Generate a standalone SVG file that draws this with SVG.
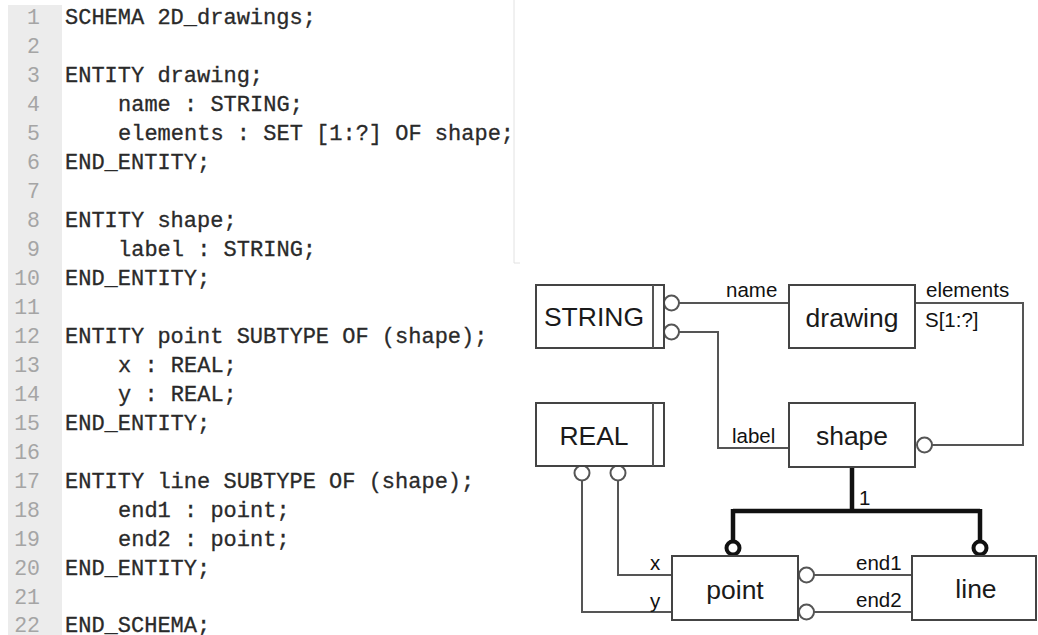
<svg xmlns="http://www.w3.org/2000/svg" width="1038" height="635" viewBox="0 0 1038 635">
<style>
.code{font-family:"Liberation Mono","Courier New",monospace;font-size:22px;fill:#2a2a2a;stroke:#2a2a2a;stroke-width:0.3}
.num{font-family:"Liberation Mono","Courier New",monospace;font-size:21.5px;fill:#a5a5a5;text-anchor:end}
.box{fill:#fff;stroke:#444;stroke-width:2}
.btxt{font-family:"Liberation Sans",Arial,sans-serif;font-size:26.5px;fill:#1a1a1a;text-anchor:middle}
.lbl{font-family:"Liberation Sans",Arial,sans-serif;font-size:20.5px;fill:#111}
.ln{fill:none;stroke:#555;stroke-width:2}
.thick{fill:none;stroke:#111;stroke-width:4.5}
.oc{fill:#fff;stroke:#555;stroke-width:2}
.tc{fill:#fff;stroke:#111;stroke-width:4}
</style>
<rect width="1038" height="635" fill="#fff"/>
<g id="code">
<rect x="8" y="5" width="54" height="630" fill="#ececec"/>
<path d="M514 0 V263 H520" fill="none" stroke="#e2e2e2" stroke-width="1"/>
<text class="num" x="40" y="24">1</text>
<text class="num" x="40" y="53">2</text>
<text class="num" x="40" y="82">3</text>
<text class="num" x="40" y="111">4</text>
<text class="num" x="40" y="140">5</text>
<text class="num" x="40" y="169">6</text>
<text class="num" x="40" y="198">7</text>
<text class="num" x="40" y="227">8</text>
<text class="num" x="40" y="256">9</text>
<text class="num" x="40" y="285">10</text>
<text class="num" x="40" y="314">11</text>
<text class="num" x="40" y="343">12</text>
<text class="num" x="40" y="372">13</text>
<text class="num" x="40" y="401">14</text>
<text class="num" x="40" y="430">15</text>
<text class="num" x="40" y="459">16</text>
<text class="num" x="40" y="488">17</text>
<text class="num" x="40" y="517">18</text>
<text class="num" x="40" y="546">19</text>
<text class="num" x="40" y="575">20</text>
<text class="num" x="40" y="604">21</text>
<text class="num" x="40" y="632">22</text>
<text class="code" x="65" y="24">SCHEMA 2D_drawings;</text>
<text class="code" x="65" y="82">ENTITY drawing;</text>
<text class="code" x="118" y="111">name : STRING;</text>
<text class="code" x="118" y="140">elements : SET [1:?] OF shape;</text>
<text class="code" x="65" y="169">END_ENTITY;</text>
<text class="code" x="65" y="227">ENTITY shape;</text>
<text class="code" x="118" y="256">label : STRING;</text>
<text class="code" x="65" y="285">END_ENTITY;</text>
<text class="code" x="65" y="343">ENTITY point SUBTYPE OF (shape);</text>
<text class="code" x="118" y="372">x : REAL;</text>
<text class="code" x="118" y="401">y : REAL;</text>
<text class="code" x="65" y="430">END_ENTITY;</text>
<text class="code" x="65" y="488">ENTITY line SUBTYPE OF (shape);</text>
<text class="code" x="118" y="517">end1 : point;</text>
<text class="code" x="118" y="546">end2 : point;</text>
<text class="code" x="65" y="575">END_ENTITY;</text>
<text class="code" x="65" y="632">END_SCHEMA;</text>
</g>
<g id="connectors">
<path class="ln" d="M679 303 H789"/>
<path class="ln" d="M679 332 H718 V448 H789"/>
<path class="ln" d="M915 303 H1023 V445 H932"/>
<path class="ln" d="M582 480 V612 H672"/>
<path class="ln" d="M618 480 V575 H672"/>
<path class="ln" d="M814 575 H912"/>
<path class="ln" d="M814 612 H912"/>
<path class="thick" d="M852 467 V511 M733 511 H980 M733 509 V542 M980 509 V542"/>
<circle class="oc" cx="671.5" cy="303" r="7.5"/>
<circle class="oc" cx="671.5" cy="332" r="7.5"/>
<circle class="oc" cx="924.5" cy="445" r="7.5"/>
<circle class="oc" cx="582" cy="473" r="7.5"/>
<circle class="oc" cx="618" cy="473" r="7.5"/>
<circle class="oc" cx="806.5" cy="575" r="7.5"/>
<circle class="oc" cx="806.5" cy="612" r="7.5"/>
<circle class="tc" cx="733" cy="548" r="6.5"/>
<circle class="tc" cx="980" cy="548" r="6.5"/>
<text class="lbl" x="726" y="297">name</text>
<text class="lbl" x="926" y="297">elements</text>
<text class="lbl" x="925" y="327">S[1:?]</text>
<text class="lbl" x="732" y="443">label</text>
<text class="lbl" x="650" y="570">x</text>
<text class="lbl" x="650" y="608">y</text>
<text class="lbl" x="856" y="570">end1</text>
<text class="lbl" x="856" y="607">end2</text>
<text class="lbl" x="859" y="505">1</text>
</g>
<g id="STRING">
<rect class="box" x="536" y="285" width="128" height="63"/>
<path class="ln" d="M653 285 V348"/>
<text class="btxt" x="594" y="326">STRING</text>
</g>
<g id="drawing">
<rect class="box" x="789" y="285" width="126" height="63"/>
<text class="btxt" x="852" y="327">drawing</text>
</g>
<g id="REAL">
<rect class="box" x="536" y="403" width="128" height="63"/>
<path class="ln" d="M653 403 V466"/>
<text class="btxt" x="594" y="445">REAL</text>
</g>
<g id="shape">
<rect class="box" x="789" y="403" width="126" height="64"/>
<text class="btxt" x="852" y="445">shape</text>
</g>
<g id="point">
<rect class="box" x="672" y="556" width="126" height="64"/>
<text class="btxt" x="735" y="599">point</text>
</g>
<g id="line">
<rect class="box" x="912" y="556" width="124" height="64"/>
<text class="btxt" x="976" y="598">line</text>
</g>
</svg>
